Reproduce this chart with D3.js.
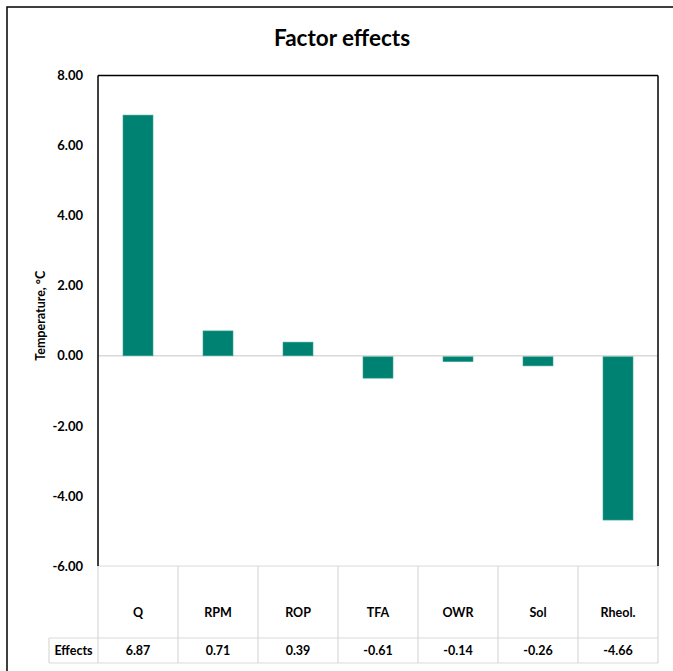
<!DOCTYPE html>
<html>
<head>
<meta charset="utf-8">
<script src="https://cdn.jsdelivr.net/npm/d3@7"></script>
<style>
  html, body { margin: 0; padding: 0; background: #fff; }
  svg { display: block; font-family: Lato, "Open Sans", sans-serif; }
</style>
</head>
<body>
<svg id="chart" width="673" height="671"></svg>
<script>
const categories = ["Q", "RPM", "ROP", "TFA", "OWR", "Sol", "Rheol."];
const effects = [6.87, 0.71, 0.39, -0.61, -0.14, -0.26, -4.66];
const yTicks = [-6, -4, -2, 0, 2, 4, 6, 8];
const title = "Factor effects";
const yLabel = "Temperature, °C";
const rowLabel = "Effects";

const fmt = d3.formatLocale({ decimal: ".", thousands: ",", grouping: [3], currency: ["", ""], minus: "-" }).format(".2f");

const svg = d3.select("#chart");
const plot = { left: 98, right: 658, top: 75.5, bottom: 566 };
const table = { catBottom: 638, effBottom: 663, labelLeft: 49 };

const y = d3.scaleLinear().domain([-6, 8]).range([plot.bottom, plot.top]);
const xCol = d3.scaleBand().domain(categories).range([plot.left, plot.right]).padding(0);
const xBar = d3.scaleBand().domain(categories).range([plot.left, plot.right])
  .paddingInner(0.625).paddingOuter(0.3125);

// outer chart border
svg.append("rect").attr("x", 7).attr("y", 7).attr("width", 680).attr("height", 680)
  .attr("fill", "none").attr("stroke", "#000").attr("stroke-width", 1.5);

// title
svg.append("text").attr("x", 342).attr("y", 46).attr("text-anchor", "middle")
  .attr("font-size", 22.5).attr("font-weight", "bold").attr("fill", "#000").text(title);

// zero line
svg.append("line").attr("x1", plot.left).attr("x2", plot.right)
  .attr("y1", y(0)).attr("y2", y(0)).attr("stroke", "#d9d9d9").attr("stroke-width", 1.5);

// bars
const data = categories.map((c, i) => ({ c, v: effects[i] }));
svg.append("g").selectAll("rect").data(data).join("rect")
  .attr("x", d => xBar(d.c))
  .attr("width", xBar.bandwidth())
  .attr("y", d => Math.min(y(d.v), y(0) + 1))
  .attr("height", d => Math.abs(y(d.v) - y(0)))
  .attr("fill", "#008272")
  .attr("stroke", "#3aa595").attr("stroke-width", 0.6);

// table grid (light gray)
const grid = svg.append("g").attr("stroke", "#d9d9d9").attr("stroke-width", 1.2).attr("fill", "none");
grid.append("line").attr("x1", plot.left).attr("x2", plot.right).attr("y1", plot.bottom).attr("y2", plot.bottom);
grid.append("line").attr("x1", table.labelLeft).attr("x2", plot.right).attr("y1", table.catBottom).attr("y2", table.catBottom);
grid.append("line").attr("x1", table.labelLeft).attr("x2", plot.right).attr("y1", table.effBottom).attr("y2", table.effBottom);
grid.append("line").attr("x1", table.labelLeft).attr("x2", table.labelLeft).attr("y1", table.catBottom).attr("y2", table.effBottom);
categories.forEach(c => {
  grid.append("line").attr("x1", xCol(c)).attr("x2", xCol(c)).attr("y1", plot.bottom).attr("y2", table.effBottom);
});
grid.append("line").attr("x1", plot.right).attr("x2", plot.right).attr("y1", plot.bottom).attr("y2", table.effBottom);

// plot border: top, left, right black
const pb = svg.append("g").attr("stroke", "#000").attr("stroke-width", 1.5);
pb.append("line").attr("x1", plot.left).attr("x2", plot.right).attr("y1", plot.top).attr("y2", plot.top);
pb.append("line").attr("x1", plot.left).attr("x2", plot.left).attr("y1", plot.top).attr("y2", plot.bottom);
pb.append("line").attr("x1", plot.right).attr("x2", plot.right).attr("y1", plot.top).attr("y2", plot.bottom);

// y axis tick labels
const yAxis = d3.axisLeft(y).tickValues(yTicks).tickFormat(fmt).tickSize(0).tickPadding(15);
const ga = svg.append("g").attr("transform", `translate(${plot.left},0)`).call(yAxis);
ga.select(".domain").remove();
ga.selectAll("text").attr("font-size", 13).attr("font-weight", "bold")
  .attr("font-family", "Lato, 'Open Sans', sans-serif").attr("fill", "#000");

// y label
svg.append("text").attr("transform", `translate(45, ${(plot.top + plot.bottom) / 2 - 5}) rotate(-90)`)
  .attr("text-anchor", "middle").attr("font-size", 12.5).attr("font-weight", "bold").attr("fill", "#000")
  .text(yLabel);

// category labels
svg.append("g").selectAll("text").data(categories).join("text")
  .attr("x", d => xCol(d) + xCol.bandwidth() / 2).attr("y", 617)
  .attr("text-anchor", "middle").attr("font-size", 12.5).attr("font-weight", "bold").attr("fill", "#000")
  .text(d => d);

// effects row
svg.append("text").attr("x", (table.labelLeft + plot.left) / 2).attr("y", 655)
  .attr("text-anchor", "middle").attr("font-size", 12.5).attr("font-weight", "bold").attr("fill", "#000")
  .text(rowLabel);
svg.append("g").selectAll("text").data(data).join("text")
  .attr("x", d => xCol(d.c) + xCol.bandwidth() / 2).attr("y", 655)
  .attr("text-anchor", "middle").attr("font-size", 12.5).attr("font-weight", "bold").attr("fill", "#000")
  .text(d => fmt(d.v));
</script>
</body>
</html>
